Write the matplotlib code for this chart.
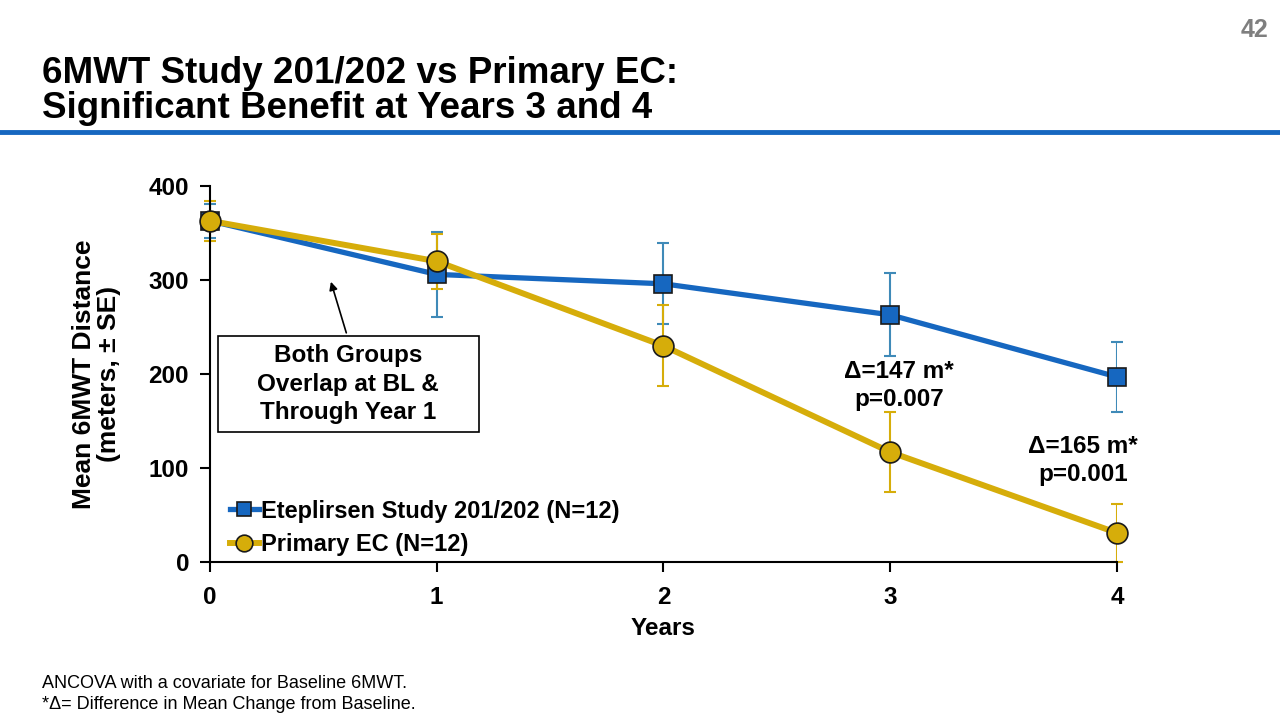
import matplotlib
matplotlib.use('Agg')
from matplotlib import pyplot as plt
from matplotlib.lines import Line2D
from matplotlib.patches import Rectangle

plt.rcParams['font.family'] = ['Liberation Sans', 'DejaVu Sans']

years = [0, 1, 2, 3, 4]
etep_mean = [363, 306, 296, 263, 197]
etep_se = [18, 45, 43, 44, 37]
ec_mean = [363, 320, 230, 117, 31]
ec_se = [21, 29, 43, 43, 31]
labels = ['Eteplirsen Study 201/202 (N=12)', 'Primary EC (N=12)']

blue = '#1667c0'
blue_err = '#3f8ab8'
gold = '#d6ad0a'

fig = plt.figure(figsize=(12.8, 7.2), dpi=100)

# title block
fig.text(0.033, 0.874, '6MWT Study 201/202 vs Primary EC:\nSignificant Benefit at Years 3 and 4',
         fontsize=26.5, fontweight='bold', va='center', ha='left', linespacing=1.0)
fig.text(0.991, 0.958, '42', fontsize=18, fontweight='bold', color='#7f7f7f', ha='right', va='center')
fig.add_artist(Line2D([0, 1], [0.8167, 0.8167], color='#1667c0', lw=3.5, transform=fig.transFigure))

ax = fig.add_axes([0.164, 0.2194, 0.7086, 0.5222])

ax.errorbar(years, etep_mean, yerr=etep_se, fmt='none', ecolor=blue_err, elinewidth=1.5,
            capsize=4, capthick=1.5, zorder=2)
ax.errorbar(years, ec_mean, yerr=ec_se, fmt='none', ecolor=gold, elinewidth=1.5,
            capsize=4, capthick=1.5, zorder=2)
ax.plot(years, etep_mean, color=blue, lw=3.8, marker='s', markersize=13,
        markerfacecolor=blue, markeredgecolor='#1a1a1a', markeredgewidth=1.2, label=labels[0], zorder=3)
ax.plot(years, ec_mean, color=gold, lw=4.3, marker='o', markersize=15,
        markerfacecolor=gold, markeredgecolor='#1a1a1a', markeredgewidth=1.2, label=labels[1], zorder=4)

ax.set_xlim(0, 4)
ax.set_ylim(0, 400)
ax.set_xticks(years)
ax.set_yticks([0, 100, 200, 300, 400])
ax.spines['top'].set_visible(False)
ax.spines['right'].set_visible(False)
ax.spines['left'].set_linewidth(1.5)
ax.spines['bottom'].set_linewidth(1.5)
ax.tick_params(axis='both', labelsize=17.5, width=1.5, length=7, direction='out')
ax.tick_params(axis='y', pad=8)
ax.tick_params(axis='x', pad=10)
for t in ax.get_xticklabels() + ax.get_yticklabels():
    t.set_fontweight('bold')
ax.set_xlabel('Years', fontsize=17.5, fontweight='bold', labelpad=6)
ax.set_ylabel('Mean 6MWT Distance\n(meters, \u00b1 SE)', fontsize=19, fontweight='bold', labelpad=20,
              linespacing=1.05)
for ln in ax.lines:
    ln.set_clip_on(False)

leg = ax.legend(loc='lower left', bbox_to_anchor=(0.012, -0.01), frameon=False,
                handlelength=1.2, handletextpad=0.1, borderaxespad=0.0, labelspacing=0.45,
                prop={'weight': 'bold', 'size': 17}, markerscale=0.8)

# callout box with arrow
ax.annotate('', xy=(0.53, 301), xytext=(0.605, 241),
            arrowprops=dict(arrowstyle='-|>', color='black', lw=1.2, mutation_scale=12))
ax.add_patch(Rectangle((0.035, 138), 1.151, 102, fill=True, fc='white', ec='black', lw=1.2,
                       clip_on=False, zorder=5))
ax.text(0.61, 189, 'Both Groups\nOverlap at BL &\nThrough Year 1', fontsize=17.5, fontweight='bold',
        ha='center', va='center', linespacing=1.3, zorder=6)

ax.text(3.04, 188, '\u0394=147 m*\np=0.007', fontsize=17.5, fontweight='bold', ha='center', va='center',
        linespacing=1.3)
ax.text(3.85, 108, '\u0394=165 m*\np=0.001', fontsize=17.5, fontweight='bold', ha='center', va='center',
        linespacing=1.3)

fig.text(0.033, 0.036, 'ANCOVA with a covariate for Baseline 6MWT.\n*\u0394= Difference in Mean Change from Baseline.',
         fontsize=13, ha='left', va='center', linespacing=1.35)

fig.savefig('out.png', dpi=100)
